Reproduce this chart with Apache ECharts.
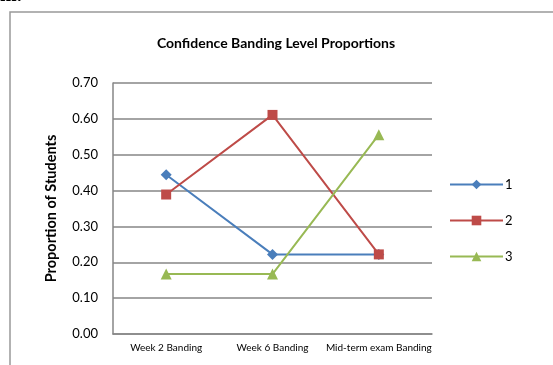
<!DOCTYPE html>
<html>
<head>
<meta charset="UTF-8" />
<title>Confidence Banding Level Proportions</title>
<style type="text/css">
body,html{margin:0;padding:0;border:0;width:100%;height:100%;overflow:hidden;background:#fff;}
</style>
<script src="https://cdn.jsdelivr.net/npm/echarts@6/dist/echarts.min.js"></script>
</head>
<body>
<div id="chartContainer" style="width:553px;height:365px;"></div>
<script type="text/javascript">
var categories = ['Week 2 Banding', 'Week 6 Banding', 'Mid-term exam Banding'];
var level1 = [0.444, 0.222, 0.222];
var level2 = [0.389, 0.611, 0.222];
var level3 = [0.167, 0.167, 0.556];
var yTicks = { min: 0, max: 0.7, interval: 0.1 };

var font = 'Lato, "Open Sans", sans-serif';

function lineSeries(name, data, color, symbol, size)
{
    return {
        name: name, type: 'line', data: data,
        symbol: symbol, symbolSize: size,
        lineStyle: { color: color, width: 2 },
        itemStyle: { color: color },
        emphasis: { disabled: true }
    };
}

var option = {
    animation: false,
    title: {
        text: 'Confidence Banding Level Proportions',
        left: 271, top: 31, textAlign: 'center',
        textStyle: { fontFamily: font, fontSize: 14, fontWeight: 'bold', color: '#000' }
    },
    legend: {
        orient: 'vertical', left: 444, top: 173, itemGap: 23,
        itemWidth: 53, itemHeight: 12,
        textStyle: { fontFamily: font, fontSize: 13, color: '#000', padding: [0, 0, 0, -3] },
        data: ['1', '2', '3']
    },
    grid: { left: 113, right: 121, top: 83, bottom: 31 },
    xAxis: {
        type: 'category', data: categories, boundaryGap: true,
        axisLine: { lineStyle: { color: '#868686', width: 1.5 } },
        axisTick: { show: false },
        axisLabel: { fontFamily: font, fontSize: 10, color: '#000', margin: 9, interval: 0 }
    },
    yAxis: {
        type: 'value', min: yTicks.min, max: yTicks.max, interval: yTicks.interval,
        name: 'Proportion of Students', nameLocation: 'middle', nameGap: 54,
        nameTextStyle: { fontFamily: font, fontSize: 14.5, fontWeight: 'bold', color: '#000' },
        axisLine: { show: true, lineStyle: { color: '#868686', width: 1.5 } },
        axisTick: { show: false },
        splitLine: { lineStyle: { color: '#868686', width: 1.5 } },
        axisLabel: { fontFamily: font, fontSize: 13, color: '#000', margin: 15,
            formatter: function (v) { return v.toFixed(2); } }
    },
    graphic: [
        { type: 'polyline', shape: { points: [[10, 365], [10, 12], [553, 12]] },
          style: { stroke: '#999', lineWidth: 1.5, fill: null } },
        { type: 'text', left: 0, top: -14,
          style: { text: 'm.', font: 'bold 20px "Liberation Serif", serif', fill: '#000' } }
    ],
    series: [
        lineSeries('1', level1, '#4a7ebb', 'diamond', 11),
        lineSeries('2', level2, '#be4b48', 'rect', 10),
        lineSeries('3', level3, '#98b954', 'triangle', 11)
    ]
};

var chart = echarts.init(document.getElementById('chartContainer'));
chart.setOption(option);
</script>
</body>
</html>
